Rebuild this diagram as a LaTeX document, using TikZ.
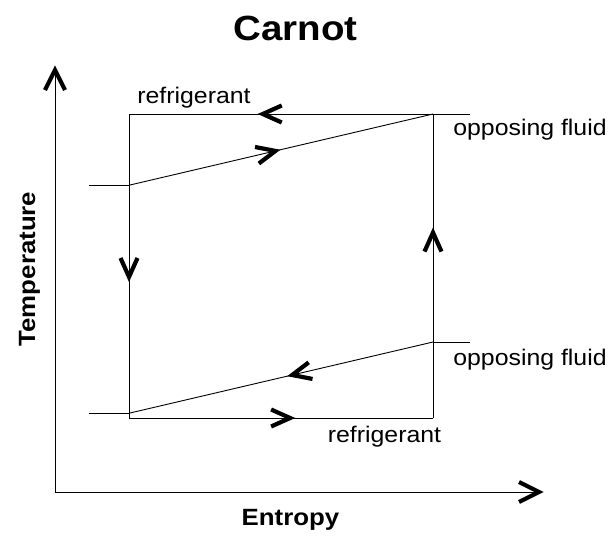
\documentclass[tikz,border=0pt]{standalone}
\usepackage{fontspec}
\setmainfont[FakeStretch=1.1]{Liberation Sans}
\usetikzlibrary{decorations.markings}
\tikzset{
  line/.style={draw=black, line width=0.9pt},
  chev/.style={line width=4.2pt, line cap=butt, line join=miter},
  midchev/.style={postaction={decorate}, decoration={markings, mark=at position #1 with {\draw[chev] (-19pt,-8.5pt) -- (0pt,0pt) -- (-19pt,8.5pt);}}},
  axchev/.style={postaction={decorate}, decoration={markings, mark=at position 1 with {\draw[chev] (-20pt,-10pt) -- (0pt,0pt) -- (-20pt,10pt);}}},
  lbl/.style={font=\fontsize{22.6}{26}\selectfont, anchor=base, inner sep=0pt},
  ttl/.style={font=\fontsize{35}{40}\selectfont\bfseries, anchor=base, inner sep=0pt},
  axlbl/.style={font=\fontsize{23.5}{27}\selectfont\bfseries, anchor=base, inner sep=0pt},
}
\begin{document}
\begin{tikzpicture}[x=1pt, y=-1pt]
\useasboundingbox (0,0) rectangle (613,536);
\coordinate (TL) at (129,114);
\coordinate (TR) at (433,114);
\coordinate (BL) at (129,418);
\coordinate (BR) at (433,418);
\coordinate (TX) at (470,114);
\coordinate (UIn) at (89,185);
\coordinate (UK) at (130,185);
\coordinate (LIn) at (470,342);
\coordinate (LK) at (433,342);
\coordinate (LK2) at (130,413);
\coordinate (LOut) at (89,413);
\coordinate (O) at (55,492);
\coordinate (YT) at (55,70);
\coordinate (XR) at (539,492);

\draw[line, axchev] (O) -- (YT);
\draw[line, axchev] (O) -- (XR);

\draw[line, midchev=0.56] (TR) -- (TL);
\draw[line] (TR) -- (TX);
\draw[line, midchev=0.536] (TL) -- (BL);
\draw[line, midchev=0.53] (BL) -- (BR);
\draw[line, midchev=0.61] (BR) -- (TR);
\draw[line] (UIn) -- (UK);
\draw[line, midchev=0.48] (UK) -- (TR);
\draw[line] (LIn) -- (LK);
\draw[line, midchev=0.465] (LK) -- (LK2);
\draw[line] (LK2) -- (LOut);

\node[ttl] (title) at (295.5,40) {Carnot};
\node[lbl] (r1) at (194,103) {refrigerant};
\node[lbl] (o1) at (530,135) {opposing fluid};
\node[lbl] (o2) at (530,365) {opposing fluid};
\node[lbl] (r2) at (384.5,442) {refrigerant};
\node[axlbl] (xl) at (290.5,525) {Entropy};
\node[axlbl, rotate=90] (yl) at (35,269) {Temperature};
\end{tikzpicture}
\end{document}
